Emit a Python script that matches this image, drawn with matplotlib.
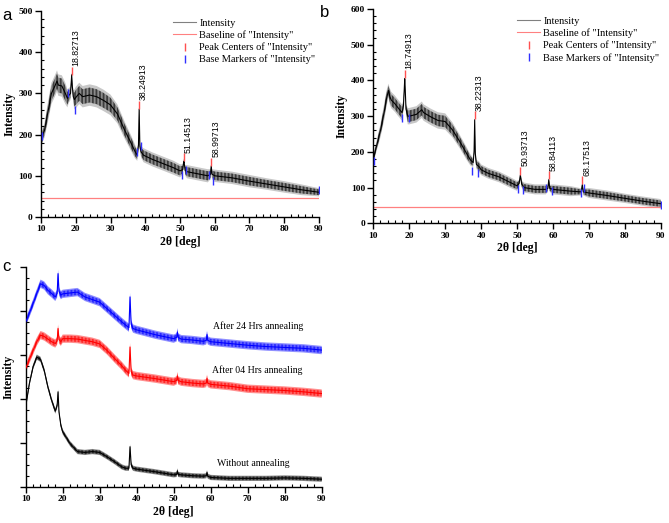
import matplotlib
matplotlib.use("Agg")
import matplotlib.pyplot as plt
from matplotlib.lines import Line2D
from matplotlib.ticker import MultipleLocator, NullFormatter
import numpy as np

# ---- panel a ----
a_x = [10, 10.5, 11, 12, 13, 14, 14.6, 15, 16, 17, 17.6, 18, 18.5, 18.65, 18.83, 19.0, 19.3, 19.6, 20,
       21, 22, 24, 26, 28, 30, 32, 34, 36, 37, 37.7, 38.05, 38.25, 38.45, 38.8, 39.5, 40, 42, 45, 48,
       50, 50.8, 51.0, 51.15, 51.3, 51.5, 52, 55, 58, 58.8, 59.0, 59.2, 60, 65, 70, 75, 80, 85, 90]
a_y = [175, 200, 210, 255, 300, 318, 330, 320, 318, 300, 288, 295, 300, 320, 345, 318, 292, 285, 290,
       300, 292, 296, 292, 283, 272, 250, 212, 178, 160, 150, 175, 262, 172, 158, 150, 148, 140, 130, 120,
       112, 115, 130, 135, 125, 113, 110, 105, 100, 104, 124, 104, 100, 95, 87, 80, 73, 66, 60]
a_noise = [14, 15, 18, 24, 26, 26, 26, 26, 26, 26, 22, 18, 16, 12, 7, 12, 16, 24, 26,
           26, 26, 26, 26, 26, 25, 23, 21, 19, 17, 14, 9, 6, 9, 14, 17, 17, 17, 17, 17,
           16, 13, 9, 7, 9, 13, 16, 16, 16, 12, 7, 12, 15, 15, 15, 14, 14, 13, 10]
a_baseline = 45
a_peak_x = [18.82713, 38.24913, 51.14513, 58.99713]
a_peak_y = [345, 262, 135, 124]
a_base_x = [10.3, 17.9, 19.7, 37.5, 38.8, 50.5, 51.8, 58.3, 59.5, 90]
a_base_y = [197, 302, 260, 158, 172, 102, 115, 102, 88, 65]

# ---- panel b ----
b_x = [10, 11, 12, 13, 13.6, 14.2, 14.6, 15, 16, 17, 18, 18.4, 18.6, 18.75, 18.9, 19.1, 19.6, 20, 22,
       23.5, 24, 26, 28, 30, 32, 34, 36, 37, 37.8, 38.05, 38.22, 38.4, 38.7, 39.5, 40, 42, 45, 48, 50,
       50.6, 50.94, 51.3, 52, 55, 58, 58.6, 58.84, 59.1, 60, 65, 67.9, 68.18, 68.45, 70, 75, 80, 85, 90]
b_y = [180, 220, 260, 310, 345, 372, 355, 345, 335, 322, 310, 330, 372, 405, 372, 320, 300, 300, 305,
       318, 310, 298, 288, 285, 262, 230, 195, 178, 170, 200, 290, 195, 165, 158, 150, 140, 130, 115, 105,
       112, 135, 110, 100, 95, 95, 98, 122, 98, 95, 90, 88, 108, 88, 85, 78, 70, 62, 55]
b_noise = [12, 15, 19, 23, 23, 19, 23, 23, 23, 23, 23, 15, 10, 6, 10, 15, 23, 23, 23,
           23, 23, 23, 23, 23, 21, 19, 18, 16, 13, 9, 5, 9, 13, 15, 15, 15, 15, 15, 14,
           10, 6, 10, 14, 14, 14, 10, 6, 10, 14, 14, 10, 6, 10, 14, 14, 13, 13, 13]
b_baseline = 45
b_peak_x = [18.74913, 38.22313, 50.93713, 58.84113, 68.17513]
b_peak_y = [405, 290, 135, 122, 108]
b_base_x = [10.2, 17.9, 19.9, 37.4, 39.2, 50.2, 51.8, 58.1, 59.7, 67.7, 68.7, 90]
b_base_y = [175, 294, 295, 147, 140, 95, 92, 100, 90, 85, 100, 50]

# ---- panel c (arbitrary units, stacked) ----
c_x = [10, 11, 12, 13, 14, 15, 16, 17, 18, 18.5, 18.75, 19.0, 19.5, 20, 22, 24, 26, 28, 30,
       32, 34, 36, 37, 37.9, 38.2, 38.5, 39, 40, 45, 50, 50.8, 51, 51.2, 52, 55, 58, 58.8, 59,
       59.2, 60, 65, 70, 75, 80, 85, 90]
c_24h = [3.75, 3.95, 4.17, 4.40, 4.62, 4.58, 4.47, 4.40, 4.32, 4.40, 4.85, 4.45, 4.36, 4.39, 4.41, 4.43,
         4.32, 4.26, 4.20, 4.05, 3.90, 3.75, 3.68, 3.62, 4.32, 3.70, 3.60, 3.57, 3.46, 3.37, 3.40, 3.52,
         3.40, 3.36, 3.34, 3.31, 3.33, 3.46, 3.33, 3.30, 3.26, 3.22, 3.19, 3.17, 3.15, 3.11]
c_04h = [2.69, 2.90, 3.10, 3.30, 3.45, 3.42, 3.36, 3.30, 3.26, 3.32, 3.60, 3.35, 3.30, 3.37, 3.37, 3.36,
         3.33, 3.30, 3.25, 3.10, 2.92, 2.75, 2.65, 2.58, 3.18, 2.62, 2.54, 2.52, 2.46, 2.39, 2.42, 2.52,
         2.42, 2.39, 2.36, 2.34, 2.36, 2.46, 2.36, 2.33, 2.29, 2.23, 2.21, 2.19, 2.16, 2.12]
c_none = [1.82, 2.35, 2.73, 2.95, 2.90, 2.65, 2.27, 1.97, 1.72, 1.85, 2.16, 1.70, 1.40, 1.25, 0.98, 0.80,
          0.78, 0.80, 0.78, 0.68, 0.57, 0.45, 0.42, 0.42, 0.91, 0.50, 0.42, 0.40, 0.34, 0.27, 0.28, 0.36,
          0.28, 0.27, 0.25, 0.24, 0.25, 0.32, 0.24, 0.21, 0.19, 0.19, 0.19, 0.20, 0.19, 0.17]
c_noise = [0.095, 0.095, 0.06]
c_series = [("blue", c_24h), ("red", c_04h), ("black", c_none)]
c_labels = ["After 24 Hrs annealing", "After 04 Hrs annealing", "Without annealing"]
c_label_x = [60.6, 60.3, 61.6]
c_label_y = [3.65, 2.65, 0.53]

SERIF = "Liberation Serif"
SANS = "Liberation Sans"
plt.rcParams.update({"font.family": SERIF, "font.size": 7, "hatch.linewidth": 0.5})


def style_axis(ax, ymax, ymajor, yminor, ylabels=True):
    ax.set_xlim(10, 90)
    ax.set_ylim(0, ymax)
    ax.xaxis.set_major_locator(MultipleLocator(10))
    ax.xaxis.set_minor_locator(MultipleLocator(2))
    ax.yaxis.set_major_locator(MultipleLocator(ymajor))
    ax.yaxis.set_minor_locator(MultipleLocator(yminor))
    for s in ("top", "right"):
        ax.spines[s].set_visible(False)
    for s in ("left", "bottom"):
        ax.spines[s].set_linewidth(1.0)
    ax.tick_params(which="major", direction="out", length=4, width=1.0, pad=2)
    ax.tick_params(which="minor", direction="in", length=2.5, width=0.8)
    if not ylabels:
        ax.yaxis.set_major_formatter(NullFormatter())
    for lab in ax.get_xticklabels() + ax.get_yticklabels():
        lab.set_fontweight("bold")
        lab.set_fontsize(6.8)
    ax.set_xlabel("2θ [deg]", fontweight="bold", fontsize=8.5, labelpad=2)
    ax.set_ylabel("Intensity", fontweight="bold", fontsize=8.5, labelpad=2)


def noisy_trace(ax, x, y, w, color, light):
    # noise band drawn as dense vertical hatching around the mean trace
    x = np.array(x)
    y = np.array(y, dtype=float)
    w = np.array(w, dtype=float)
    ax.fill_between(x, y - w, y + w, facecolor=light, edgecolor="none", linewidth=0, zorder=1)
    ax.fill_between(x, y - 0.7 * w, y + 0.7 * w, facecolor="none", edgecolor=color,
                    hatch="|" * 12, linewidth=0, zorder=2)
    ax.plot(x, y, color=color, linewidth=0.8, zorder=3)


def xrd_panel(ax, x, y, noise, baseline, px, py, bx, by, ymax, legend_x):
    noisy_trace(ax, x, y, noise, "black", "#c8c8c8")
    ax.axhline(baseline, xmin=0, xmax=1, color="#ff8080", linewidth=0.9, zorder=2)
    ax.plot(bx, by, linestyle="none", marker="|", markersize=6, mew=1.0, color="#3030ff", zorder=4)
    for xx, yy in zip(px, py):
        ax.plot([xx], [yy + ymax * 0.02], linestyle="none", marker="|", markersize=6, mew=1.0,
                color="#ff5050", zorder=4)
        ax.text(xx, yy + ymax * 0.043, f"{xx:.5f}", rotation=90, ha="left", va="bottom",
                fontsize=6.3, family=SANS)
    handles = [
        Line2D([], [], color="#808080", linewidth=0.8),
        Line2D([], [], color="#ff8080", linewidth=0.8),
        Line2D([], [], linestyle="none", marker="|", markersize=6, color="#ff5050"),
        Line2D([], [], linestyle="none", marker="|", markersize=6, color="#3030ff"),
    ]
    labels = ["Intensity", 'Baseline of "Intensity"', 'Peak Centers of "Intensity"',
              'Base Markers of "Intensity"']
    ax.legend(handles, labels, loc="upper left", bbox_to_anchor=(legend_x, 1.0), frameon=False,
              fontsize=7.5, handlelength=2.2, handletextpad=0.3, labelspacing=0.25,
              borderpad=0.2)


fig = plt.figure(figsize=(6.69, 5.23), dpi=100)

ax_a = fig.add_axes([0.0613, 0.5851, 0.4155, 0.3939])
xrd_panel(ax_a, a_x, a_y, a_noise, a_baseline, a_peak_x, a_peak_y, a_base_x, a_base_y, 500, 0.45)
style_axis(ax_a, 500, 100, 20)

ax_b = fig.add_axes([0.558, 0.573, 0.4296, 0.4098])
xrd_panel(ax_b, b_x, b_y, b_noise, b_baseline, b_peak_x, b_peak_y, b_base_x, b_base_y, 600, 0.475)
style_axis(ax_b, 600, 100, 20)

ax_c = fig.add_axes([0.0384, 0.0694, 0.4425, 0.42])
lights = {"blue": "#9090ff", "red": "#ff9090", "black": "#909090"}
for (color, vals), nz in zip(c_series, c_noise):
    noisy_trace(ax_c, c_x, vals, [nz] * len(c_x), color, lights[color])
for txt, tx, ty in zip(c_labels, c_label_x, c_label_y):
    ax_c.text(tx, ty, txt, fontsize=7, ha="left", va="center")
style_axis(ax_c, 5, 1, 0.25, ylabels=False)

fig.text(0.004, 0.985, "a", fontsize=12, family=SANS, va="top")
fig.text(0.478, 0.99, "b", fontsize=12, family=SANS, va="top")
fig.text(0.004, 0.505, "c", fontsize=12, family=SANS, va="top")

fig.savefig("out.png", dpi=100)
